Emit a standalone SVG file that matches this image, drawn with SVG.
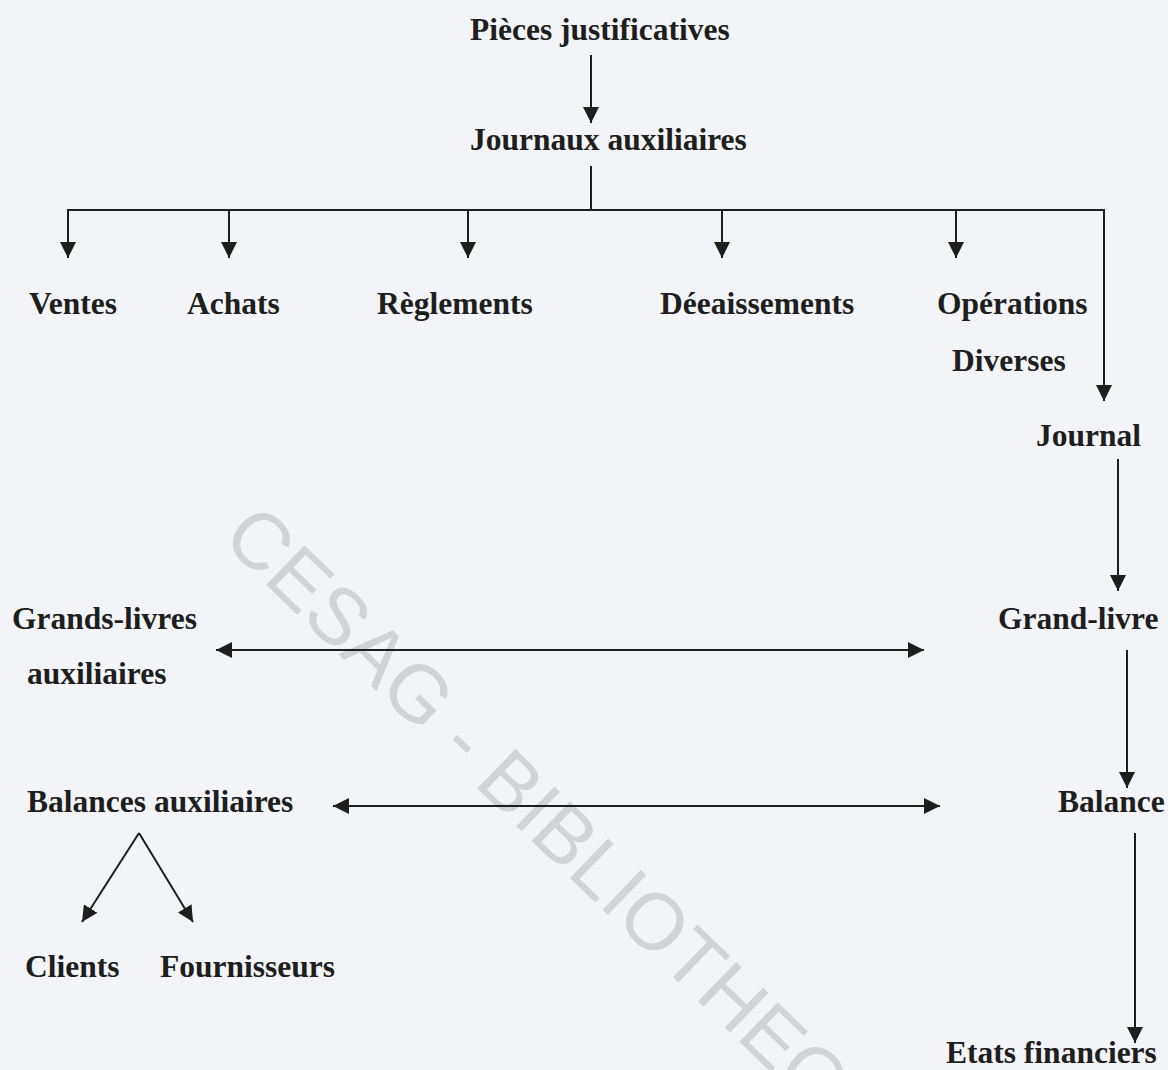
<svg xmlns="http://www.w3.org/2000/svg" width="1168" height="1070" viewBox="0 0 1168 1070">
<defs>
<style>
.t{font-family:"Liberation Serif","Times New Roman",serif;font-weight:bold;font-size:31.5px;fill:#1e1e1e}
.c{stroke:#1e1e1e;stroke-width:2;fill:none}
.wm{font-family:"Liberation Sans",Arial,sans-serif;font-size:80px;fill:#d2d3d4}
</style>
<marker id="ah" markerUnits="userSpaceOnUse" markerWidth="16" markerHeight="16" viewBox="0 0 16 16" refX="16" refY="8" orient="auto-start-reverse">
<path d="M0,0 L16,8 L0,16 z" fill="#1e1e1e"/>
</marker>
</defs>
<rect width="1168" height="1070" fill="#f2f4f7"/>
<text class="wm" transform="translate(220,540) rotate(44)">CESAG - BIBLIOTHEQUE</text>

<g id="connectors">
<line class="c" x1="591" y1="55" x2="591" y2="123" marker-end="url(#ah)"/>
<line class="c" x1="591" y1="166" x2="591" y2="210"/>
<line class="c" x1="67" y1="210" x2="1105" y2="210"/>
<line class="c" x1="68" y1="210" x2="68" y2="258" marker-end="url(#ah)"/>
<line class="c" x1="229" y1="210" x2="229" y2="258" marker-end="url(#ah)"/>
<line class="c" x1="468" y1="210" x2="468" y2="258" marker-end="url(#ah)"/>
<line class="c" x1="722" y1="210" x2="722" y2="258" marker-end="url(#ah)"/>
<line class="c" x1="956" y1="210" x2="956" y2="258" marker-end="url(#ah)"/>
<line class="c" x1="1104" y1="210" x2="1104" y2="401" marker-end="url(#ah)"/>
<line class="c" x1="1118" y1="459" x2="1118" y2="591" marker-end="url(#ah)"/>
<line class="c" x1="1127" y1="650" x2="1127" y2="788" marker-end="url(#ah)"/>
<line class="c" x1="1135" y1="833" x2="1135" y2="1043" marker-end="url(#ah)"/>
<line class="c" x1="216" y1="650" x2="924" y2="650" marker-start="url(#ah)" marker-end="url(#ah)"/>
<line class="c" x1="333" y1="806" x2="940" y2="806" marker-start="url(#ah)" marker-end="url(#ah)"/>
<line class="c" x1="139" y1="833" x2="82" y2="922" marker-end="url(#ah)"/>
<line class="c" x1="139" y1="833" x2="193" y2="922" marker-end="url(#ah)"/>
</g>

<g id="n-pieces"><text class="t" x="470" y="40">Pièces justificatives</text></g>
<g id="n-journaux-aux"><text class="t" x="470" y="150">Journaux auxiliaires</text></g>
<g id="n-ventes"><text class="t" x="29" y="314">Ventes</text></g>
<g id="n-achats"><text class="t" x="187" y="314">Achats</text></g>
<g id="n-reglements"><text class="t" x="377" y="314">Règlements</text></g>
<g id="n-decaissements"><text class="t" x="660" y="314">Déeaissements</text></g>
<g id="n-od"><text class="t" x="937" y="314">Opérations</text><text class="t" x="952" y="371">Diverses</text></g>
<g id="n-journal"><text class="t" x="1036" y="446">Journal</text></g>
<g id="n-grandlivre"><text class="t" x="998" y="629">Grand-livre</text></g>
<g id="n-gl-aux"><text class="t" x="12" y="629">Grands-livres</text><text class="t" x="27" y="684">auxiliaires</text></g>
<g id="n-balance"><text class="t" x="1058" y="812">Balance</text></g>
<g id="n-bal-aux"><text class="t" x="27" y="812">Balances auxiliaires</text></g>
<g id="n-clients"><text class="t" x="25" y="977">Clients</text></g>
<g id="n-fournisseurs"><text class="t" x="160" y="977">Fournisseurs</text></g>
<g id="n-etats"><text class="t" x="946" y="1063">Etats financiers</text></g>
</svg>
